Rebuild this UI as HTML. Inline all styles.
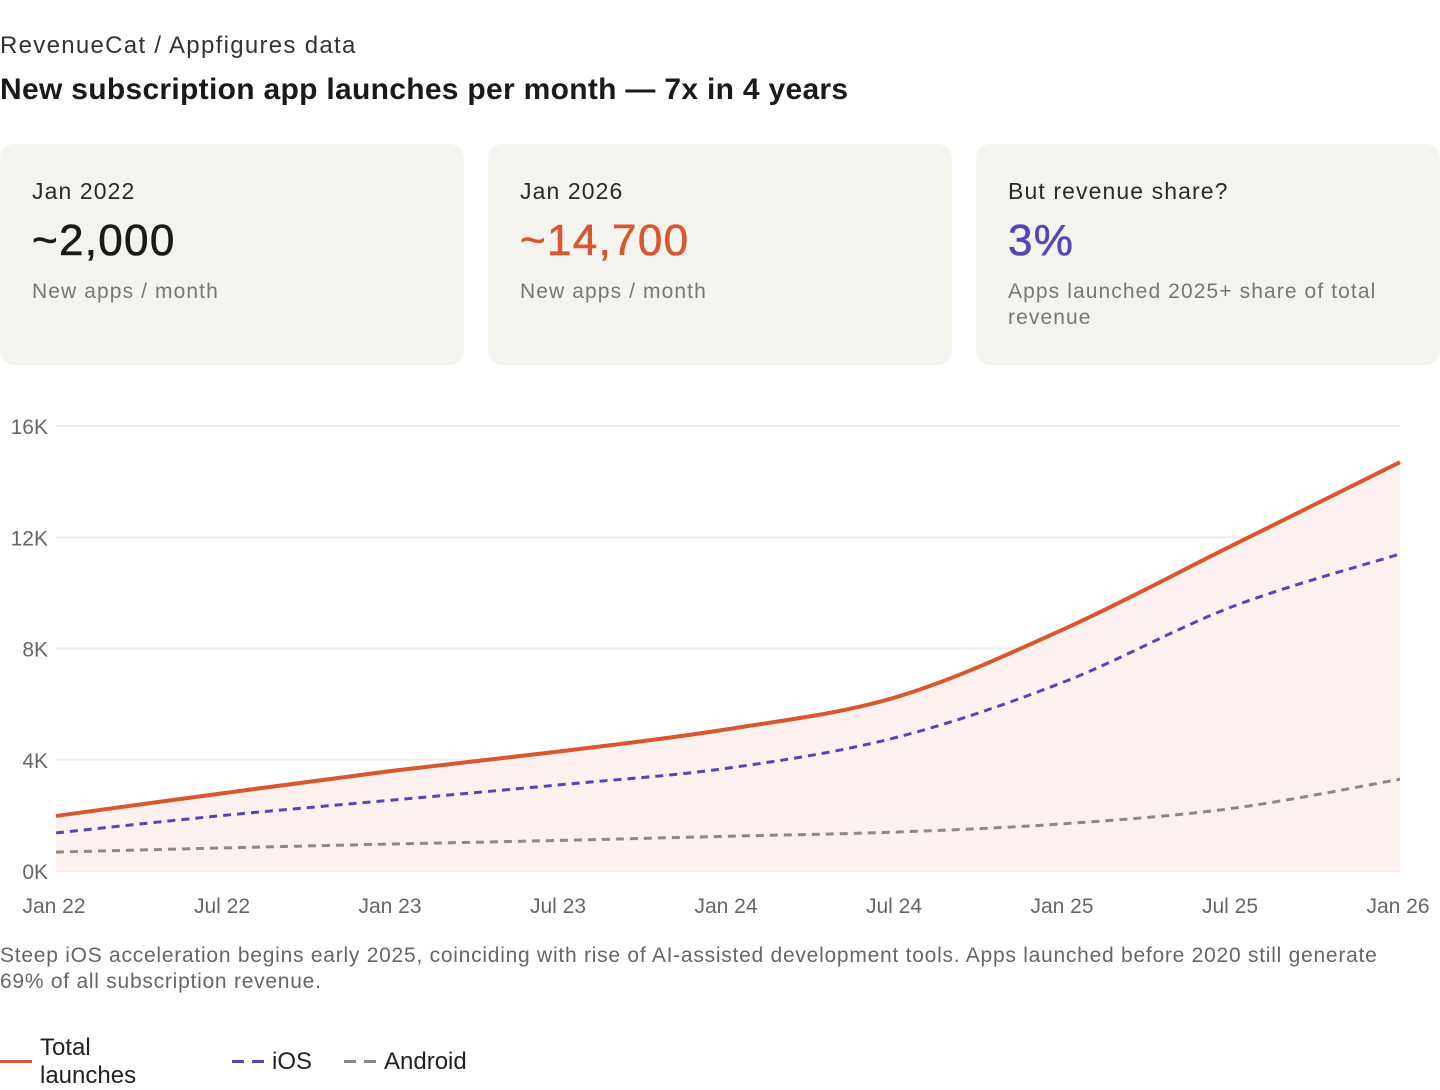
<!DOCTYPE html>
<html><head><meta charset="utf-8"><style>
body{margin:0;width:1440px;height:1076px;overflow:hidden;background:#fff;font-family:"Liberation Sans",sans-serif;color:#1a1a1a;position:relative}
.abs{position:absolute}
.card{position:absolute;top:144px;width:464px;height:221px;background:#f4f3ee;border-radius:14px}
.card .l{position:absolute;left:32px;top:34px;font-size:23px;color:#2a2a2a;letter-spacing:1.1px}
.card .v{position:absolute;left:32px;top:72px;font-size:44px;font-weight:500;letter-spacing:1.3px;-webkit-text-stroke:0.6px currentColor}
.card .s{position:absolute;left:32px;top:135px;font-size:21px;color:#777;line-height:26px;width:400px;letter-spacing:1.1px}
</style></head><body>
<div class="abs" style="left:0;top:32px;font-size:24px;color:#333;letter-spacing:1.3px">RevenueCat / Appfigures data</div>
<div class="abs" style="left:0;top:73px;font-size:30px;font-weight:bold;letter-spacing:0.3px">New subscription app launches per month — 7x in 4 years</div>
<div class="card" style="left:0"><div class="l">Jan 2022</div><div class="v">~2,000</div><div class="s">New apps / month</div></div>
<div class="card" style="left:488px"><div class="l">Jan 2026</div><div class="v" style="color:#d9572e">~14,700</div><div class="s">New apps / month</div></div>
<div class="card" style="left:976px"><div class="l">But revenue share?</div><div class="v" style="color:#5546b8">3%</div><div class="s">Apps launched 2025+ share of total revenue</div></div>
<svg id="chart" class="abs" style="left:0;top:0" width="1440" height="940"></svg>
<div class="abs" style="left:0;top:943px;font-size:21px;line-height:26px;color:#666;width:1400px;letter-spacing:.75px">Steep iOS acceleration begins early 2025, coinciding with rise of AI-assisted development tools. Apps launched before 2020 still generate 69% of all subscription revenue.</div>
<div class="abs" style="left:0;top:1030px;width:600px;height:46px;font-size:24px;color:#222">
 <div class="abs" style="left:0;top:0"><span class="abs" style="left:0;top:30px;width:32px;height:3px;background:#d9572e"></span><span class="abs" style="left:40px;top:4px;width:100px;line-height:28px">Total launches</span></div>
 <div class="abs" style="left:232px;top:0"><span class="abs" style="left:0;top:30px;width:12px;height:3px;background:#5546b8"></span><span class="abs" style="left:20px;top:30px;width:12px;height:3px;background:#5546b8"></span><span class="abs" style="left:40px;top:18px">iOS</span></div>
 <div class="abs" style="left:344px;top:0"><span class="abs" style="left:0;top:30px;width:12px;height:3px;background:#8a8a82"></span><span class="abs" style="left:20px;top:30px;width:12px;height:3px;background:#8a8a82"></span><span class="abs" style="left:40px;top:18px">Android</span></div>
</div>
<script>
const categories=["Jan 22","Jul 22","Jan 23","Jul 23","Jan 24","Jul 24","Jan 25","Jul 25","Jan 26"];
const totalValues=[1980,2800,3600,4300,5100,6250,8700,11700,14700];
const iosValues=[1370,2000,2550,3100,3700,4800,6800,9500,11400];
const androidValues=[680,830,970,1100,1250,1400,1700,2250,3300];
const yTicks=[0,4000,8000,12000,16000];
const yTickLabels=["0K","4K","8K","12K","16K"];
const NS="http://www.w3.org/2000/svg";
const svg=document.getElementById('chart');
const x0=56,x1=1400,yb=871,yt=426,ymax=16000;
const xs=i=>x0+(x1-x0)*i/(categories.length-1);
const ys=v=>yb-(yb-yt)*v/ymax;
function mk(t,a){const e=document.createElementNS(NS,t);for(const k in a)e.setAttribute(k,a[k]);svg.appendChild(e);return e;}
function pathD(vals){const p=vals.map((v,i)=>[xs(i),ys(v)]);let d=`M${p[0][0]},${p[0][1]}`;
 for(let i=0;i<p.length-1;i++){const a=p[i-1]||p[i],b=p[i],c=p[i+1],e=p[i+2]||c;
 d+=` C${b[0]+(c[0]-a[0])/6},${b[1]+(c[1]-a[1])/6} ${c[0]-(e[0]-b[0])/6},${c[1]-(e[1]-b[1])/6} ${c[0]},${c[1]}`;}return d;}
yTicks.forEach((t,i)=>{
 const g=mk('line',{x1:x0,x2:x1,y1:ys(t),y2:ys(t),stroke:'#eeeeee','stroke-width':2});
 
 const l=mk('text',{x:48,y:ys(t)+8,'text-anchor':'end','font-size':21,fill:'#666','font-family':'Liberation Sans, sans-serif'});
 l.textContent=yTickLabels[i];
});
categories.forEach((c,i)=>{
 const l=mk('text',{x:xs(i)-2,y:913,'text-anchor':'middle','font-size':21,fill:'#666','font-family':'Liberation Sans, sans-serif'});
 l.textContent=c;
});
const area=mk('path',{d:pathD(totalValues)+` L${xs(categories.length-1)},${yb} L${x0},${yb} Z`,fill:'#fcf1ee'});

const an=mk('path',{d:pathD(androidValues),fill:'none',stroke:'#8a8a82','stroke-width':3,'stroke-dasharray':'8 6'});

const io=mk('path',{d:pathD(iosValues),fill:'none',stroke:'#5546b8','stroke-width':3,'stroke-dasharray':'8 6'});

const to=mk('path',{d:pathD(totalValues),fill:'none',stroke:'#d9572e','stroke-width':4});

</script>
</body></html>
